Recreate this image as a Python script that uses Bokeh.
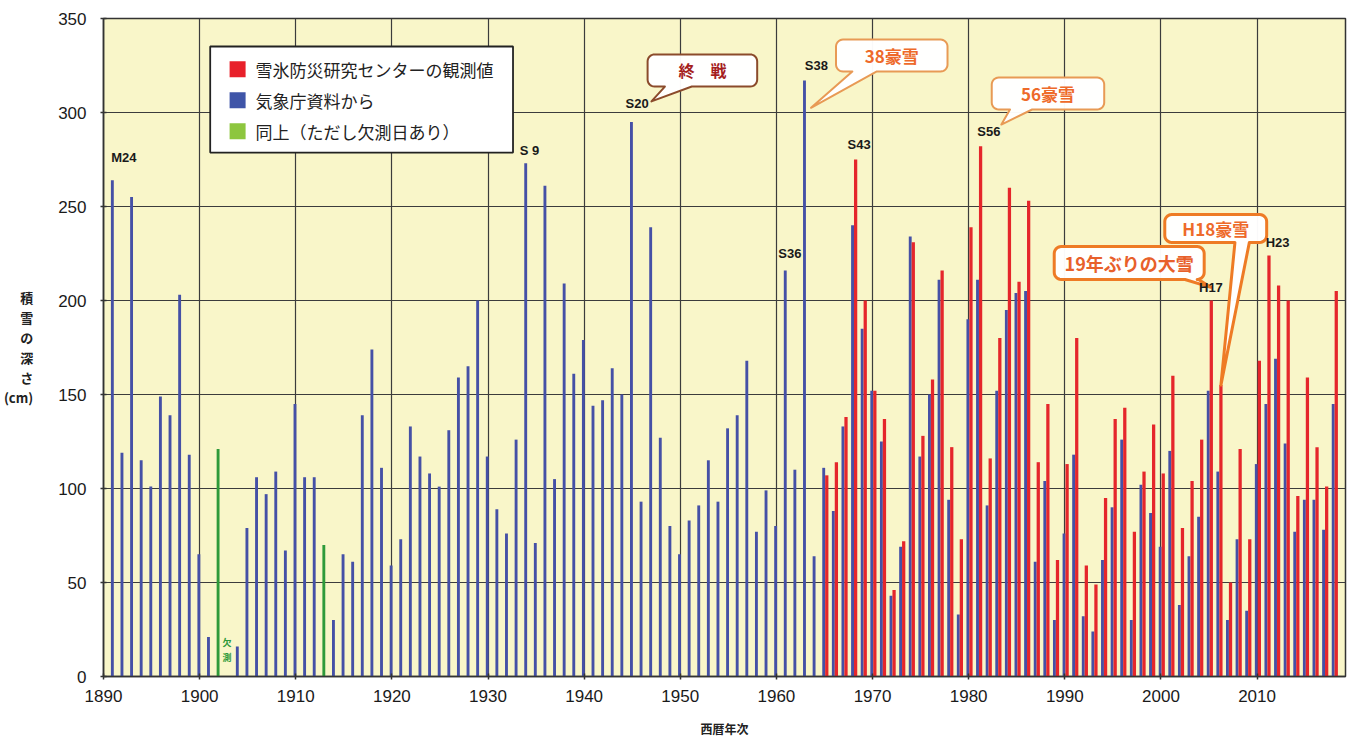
import numpy as np
from bokeh.plotting import figure
from bokeh.models import Range1d, FixedTicker, Label, ColumnDataSource
from bokeh.transform import dodge
from bokeh.embed import file_html
from bokeh.resources import INLINE

# ---------------- data ----------------
jma_years = [y for y in range(1891, 2019) if y not in (1902, 1903, 1913)]
jma_depth = [
    264, 119, 255, 115, 101, 149, 139, 203, 118, 65, 21,          # 1891-1901
    16, 79, 106, 97, 109, 67, 145, 106, 106,                      # 1904-1912
    30, 65, 61, 139, 174, 111,                                    # 1914-1919
    59, 73, 133, 117, 108, 101, 131, 159, 165, 200,               # 1920s
    117, 89, 76, 126, 273, 71, 261, 105, 209, 161,                # 1930s
    179, 144, 147, 164, 150, 295, 93, 239, 127, 80,               # 1940s
    65, 83, 91, 115, 93, 132, 139, 168, 77, 99,                   # 1950s
    80, 216, 110, 317, 64, 111, 88, 133, 240, 185,                # 1960s
    152, 125, 43, 69, 234, 117, 150, 211, 94, 33,                 # 1970s
    190, 211, 91, 152, 195, 204, 205, 61, 104, 30,                # 1980s
    76, 118, 32, 24, 62, 90, 126, 30, 102, 87,                    # 1990s
    69, 120, 38, 64, 85, 152, 109, 30, 73, 35,                    # 2000s
    113, 145, 169, 124, 77, 94, 94, 78, 145,                      # 2010-2018
]
partial_years = [1902, 1913]
partial_depth = [121, 70]
missing_year = 1903
center_years = list(range(1965, 2019))
center_depth = [
    107, 114, 138, 275, 200,
    152, 137, 46, 72, 231, 128, 158, 216, 122, 73,
    239, 282, 116, 180, 260, 210, 253, 114, 145, 62,
    113, 180, 59, 49, 95, 137, 143, 77, 109, 134,
    108, 160, 79, 104, 126, 200, 155, 50, 121, 73,
    168, 224, 208, 200, 96, 159, 122, 101, 205,
]
x_ticks = list(range(1890, 2011, 10))
y_ticks = list(range(0, 351, 50))
legend_labels = ["雪氷防災研究センターの観測値", "気象庁資料から", "同上（ただし欠測日あり）"]
era_labels = ["M24", "S 9", "S20", "S36", "S38", "S43", "S56", "H17", "H23"]
era_years = [1891, 1934, 1945, 1961, 1963, 1968, 1981, 2005, 2011]
x_title = "西暦年次"
y_title = "積\n雪\nの\n深\nさ\n(cm)"
missing_text = ["欠", "測"]

# ---------------- styling ----------------
BLUE = "#4550A6"
RED = "#E5262B"
GREEN = "#2E9A3A"
LEG_COLORS = ["#E8202A", "#3F55A8", "#8DC63F"]
BG = "#F9F6C9"
GRID = "#3C3C3C"
JP = "Noto Sans CJK JP"
LAT = "Liberation Sans"

X0, X1 = 1890.0, 2019.2
Y0, Y1 = 0.0, 350.0
FW, FH = 1242, 658
PXX = FW / (X1 - X0)
PXY = FH / (Y1 - Y0)

p = figure(frame_width=FW, frame_height=FH,
           x_range=Range1d(X0, X1), y_range=Range1d(Y0, Y1),
           output_backend="svg", toolbar_location=None,
           min_border_left=103, min_border_right=2,
           min_border_top=18, min_border_bottom=59,
           background_fill_color=BG, border_fill_color="white",
           outline_line_color="#333333", outline_line_width=1.5)

for ax in (p.xaxis, p.yaxis):
    ax.axis_line_color = "#333333"
    ax.axis_line_width = 1.5
    ax.major_tick_line_color = "#333333"
    ax.major_tick_line_width = 1.5
    ax.major_tick_in = 3
    ax.major_tick_out = 3
    ax.minor_tick_line_color = None
    ax.major_label_text_font = LAT
    ax.major_label_text_font_size = "17px"
    ax.major_label_text_color = "#1A1A1A"

p.xaxis.ticker = FixedTicker(ticks=x_ticks)
p.yaxis.ticker = FixedTicker(ticks=y_ticks)
p.xaxis.major_label_standoff = 10
p.yaxis.major_label_standoff = 14
p.xaxis.axis_label = x_title
p.xaxis.axis_label_text_font = JP
p.xaxis.axis_label_text_font_style = "bold"
p.xaxis.axis_label_text_font_size = "12px"
p.xaxis.axis_label_text_color = "#222222"
p.xaxis.axis_label_standoff = 15

p.yaxis.axis_label = y_title
p.yaxis.axis_label_orientation = "horizontal"
p.yaxis.axis_label_text_font = JP
p.yaxis.axis_label_text_font_style = "bold"
p.yaxis.axis_label_text_font_size = "13px"
p.yaxis.axis_label_text_line_height = 1.05
p.yaxis.axis_label_text_color = "#222222"
p.yaxis.axis_label_standoff = 22

p.xgrid.ticker = FixedTicker(ticks=x_ticks)
p.ygrid.ticker = FixedTicker(ticks=y_ticks)
for g in (p.xgrid, p.ygrid):
    g.grid_line_color = GRID
    g.grid_line_width = 1.2
    g.grid_line_alpha = 1.0

# ---------------- bars ----------------
src_jma = ColumnDataSource(dict(year=jma_years, depth=jma_depth))
src_part = ColumnDataSource(dict(year=partial_years, depth=partial_depth))
src_ctr = ColumnDataSource(dict(year=center_years, depth=center_depth))

p.vbar(x=dodge("year", -0.08, range=p.x_range), top="depth", width=0.3,
       source=src_jma, fill_color=BLUE, line_color=None)
p.vbar(x=dodge("year", -0.08, range=p.x_range), top="depth", width=0.3,
       source=src_part, fill_color=GREEN, line_color=None)
p.vbar(x=dodge("year", 0.24, range=p.x_range), top="depth", width=0.34,
       source=src_ctr, fill_color=RED, line_color=None)

# missing-year note
for i, ch in enumerate(missing_text):
    p.add_layout(Label(x=missing_year - 0.15, y=18 - 8 * i, text=ch,
                       text_font=JP, text_font_size="9px", text_font_style="bold",
                       text_color=GREEN, text_align="center", text_baseline="middle"))

# ---------------- era labels ----------------
def depth_of(year):
    b = jma_depth[jma_years.index(year)]
    if year in center_years:
        return max(b, center_depth[center_years.index(year)])
    return b

era_dx = [-0.2, -0.7, -0.7, -0.8, -0.05, -0.6, -0.1, 0.2, -0.1]
era_dy = [8, 3, 6, 5, 4, 4, 4, 3, 3]
era_align = ["left", "left", "left", "left", "left", "left", "left", "center", "left"]
for lab, yr, dx, dy, al in zip(era_labels, era_years, era_dx, era_dy, era_align):
    p.add_layout(Label(x=yr + dx, y=depth_of(yr) + dy, text=lab,
                       text_font=LAT, text_font_size="13px", text_font_style="bold",
                       text_color="#1A1A1A", text_align=al, text_baseline="bottom"))

# ---------------- callouts ----------------
def callout(x0, x1, y0, y1, bx0, bx1, tx, ty, r=7):
    rx, ry = r / PXX, r / PXY
    pts = []

    def arc(cx, cy, a0, a1):
        for a in np.linspace(a0, a1, 8):
            pts.append((cx + rx * np.cos(a), cy + ry * np.sin(a)))
    arc(x0 + rx, y0 + ry, np.pi, 1.5 * np.pi)
    pts += [(bx0, y0), (tx, ty), (bx1, y0)]
    arc(x1 - rx, y0 + ry, 1.5 * np.pi, 2 * np.pi)
    arc(x1 - rx, y1 - ry, 0.0, 0.5 * np.pi)
    arc(x0 + rx, y1 - ry, 0.5 * np.pi, np.pi)
    xs, ys = zip(*pts)
    return list(xs), list(ys)

h18_tip = (2006 + 0.24, center_depth[center_years.index(2006)])
callouts = [
    dict(text="終　戦", box=(1946.6, 1958.0, 313.8, 330.9), base=(1948.4, 1951.2),
         tip=(1947.0, 305.9), edge="#8B4B2B", lw=2, color="#A51E1E", size="16px"),
    dict(text="38豪雪", box=(1966.2, 1977.8, 321.8, 338.8), base=(1967.9, 1970.4),
         tip=(1963.6, 302.5), edge="#E89A55", lw=2, color="#EE6A2A", size="17px"),
    dict(text="56豪雪", box=(1982.4, 1994.1, 301.6, 318.6), base=(1984.3, 1986.6),
         tip=(1983.4, 293.6), edge="#E89A55", lw=2, color="#EE6A2A", size="17px"),
    dict(text="H18豪雪", box=(2000.4, 2011.0, 230.9, 245.7), base=(2007.7, 2009.2),
         tip=h18_tip, edge="#EE7B25", lw=3, color="#EE6A2A", size="17px"),
    dict(text="19年ぶりの大雪", box=(1988.9, 2004.5, 211.2, 228.7), base=(2002.5, 2003.9),
         tip=(2005.2, 207.0), edge="#EE7B25", lw=3, color="#E8602A", size="18px"),
]
for c in callouts:
    x0, x1, y0, y1 = c["box"]
    xs, ys = callout(x0, x1, y0, y1, c["base"][0], c["base"][1], c["tip"][0], c["tip"][1])
    p.patch(xs, ys, fill_color="white", fill_alpha=0.97, line_color=c["edge"],
            line_width=c["lw"], line_join="round")
    p.add_layout(Label(x=(x0 + x1) / 2, y=(y0 + y1) / 2, text=c["text"],
                       text_font=JP, text_font_size=c["size"], text_font_style="bold",
                       text_color=c["color"], text_align="center", text_baseline="middle"))

# ---------------- legend (drawn by hand) ----------------
leg_x0, leg_x1 = 1901.1, 1932.6
leg_y0, leg_y1 = 278.7, 335.1
p.quad(left=[leg_x0], right=[leg_x1], bottom=[leg_y0], top=[leg_y1],
       fill_color="white", line_color="#222222", line_width=1.8)
leg_rows = [323.0, 306.5, 290.0]
for lab, col, yy in zip(legend_labels, LEG_COLORS, leg_rows):
    p.rect(x=[1903.95], y=[yy], width=16, height=16, width_units="screen",
           height_units="screen", fill_color=col, line_color=None)
    p.add_layout(Label(x=1905.8, y=yy, text=lab, text_font=JP, text_font_size="17px",
                       text_color="#222222", text_align="left", text_baseline="middle"))

open("out.html", "w").write(file_html(p, INLINE))
